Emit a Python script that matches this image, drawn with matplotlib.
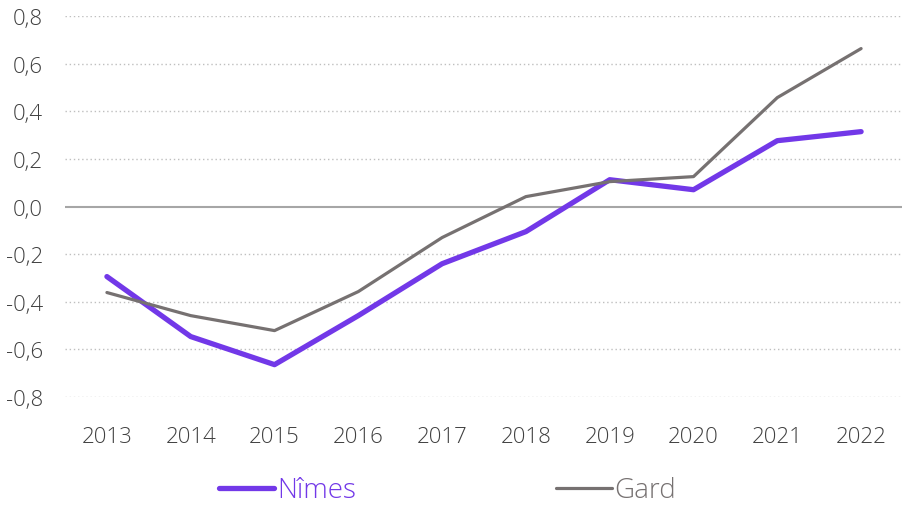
import matplotlib.pyplot as plt
from matplotlib.lines import Line2D

years = ["2013", "2014", "2015", "2016", "2017", "2018", "2019", "2020", "2021", "2022"]
nimes = [-0.294, -0.546, -0.664, -0.458, -0.24, -0.105, 0.113, 0.071, 0.277, 0.315]
gard = [-0.361, -0.458, -0.521, -0.357, -0.13, 0.042, 0.105, 0.126, 0.458, 0.664]
yticks = [-0.8, -0.6, -0.4, -0.2, 0.0, 0.2, 0.4, 0.6, 0.8]

purple = "#7238E8"
grey = "#767171"
text_col = "#404040"

plt.rcParams['font.family'] = ['Open Sans', 'DejaVu Sans']
plt.rcParams['font.weight'] = 300

fig = plt.figure(figsize=(9.03, 5.06), dpi=100)
ax = fig.add_axes([0.072, 0.2134, 0.928, 0.7526])

x = list(range(len(years)))
for y in yticks:
    if y == 0:
        ax.axhline(y, color="#A6A6A6", lw=1.5, zorder=1)
    else:
        ax.axhline(y, color="#BFBFBF", lw=1, ls=(0, (1, 2)), zorder=1)

ax.plot(x, gard, color=grey, lw=2.3, zorder=3, solid_capstyle='round')
ax.plot(x, nimes, color=purple, lw=3.8, zorder=2, solid_capstyle='round')

ax.set_xlim(-0.5, 9.5)
ax.set_ylim(-0.8, 0.8)
ax.set_yticks(yticks)
ax.set_yticklabels([("%.1f" % v).replace(".", ",") for v in yticks])
ax.set_xticks(x)
ax.set_xticklabels(years)
ax.tick_params(length=0, labelsize=16, labelcolor=text_col)
ax.tick_params(axis='x', pad=21)
ax.tick_params(axis='y', pad=16)
for s in ax.spines.values():
    s.set_visible(False)

handles = [Line2D([], [], color=purple, lw=3.8, solid_capstyle='round'),
           Line2D([], [], color=grey, lw=2.3, solid_capstyle='round')]
leg = fig.legend(handles, ["Nîmes", "Gard"], loc="center", bbox_to_anchor=(0.4956, 0.029),
                 ncol=2, frameon=False, fontsize=20, handlelength=2.0, handletextpad=0.1,
                 columnspacing=7.2, borderpad=0)
leg.get_texts()[0].set_color(purple)
leg.get_texts()[1].set_color(grey)

fig.savefig("out.png", dpi=100)
